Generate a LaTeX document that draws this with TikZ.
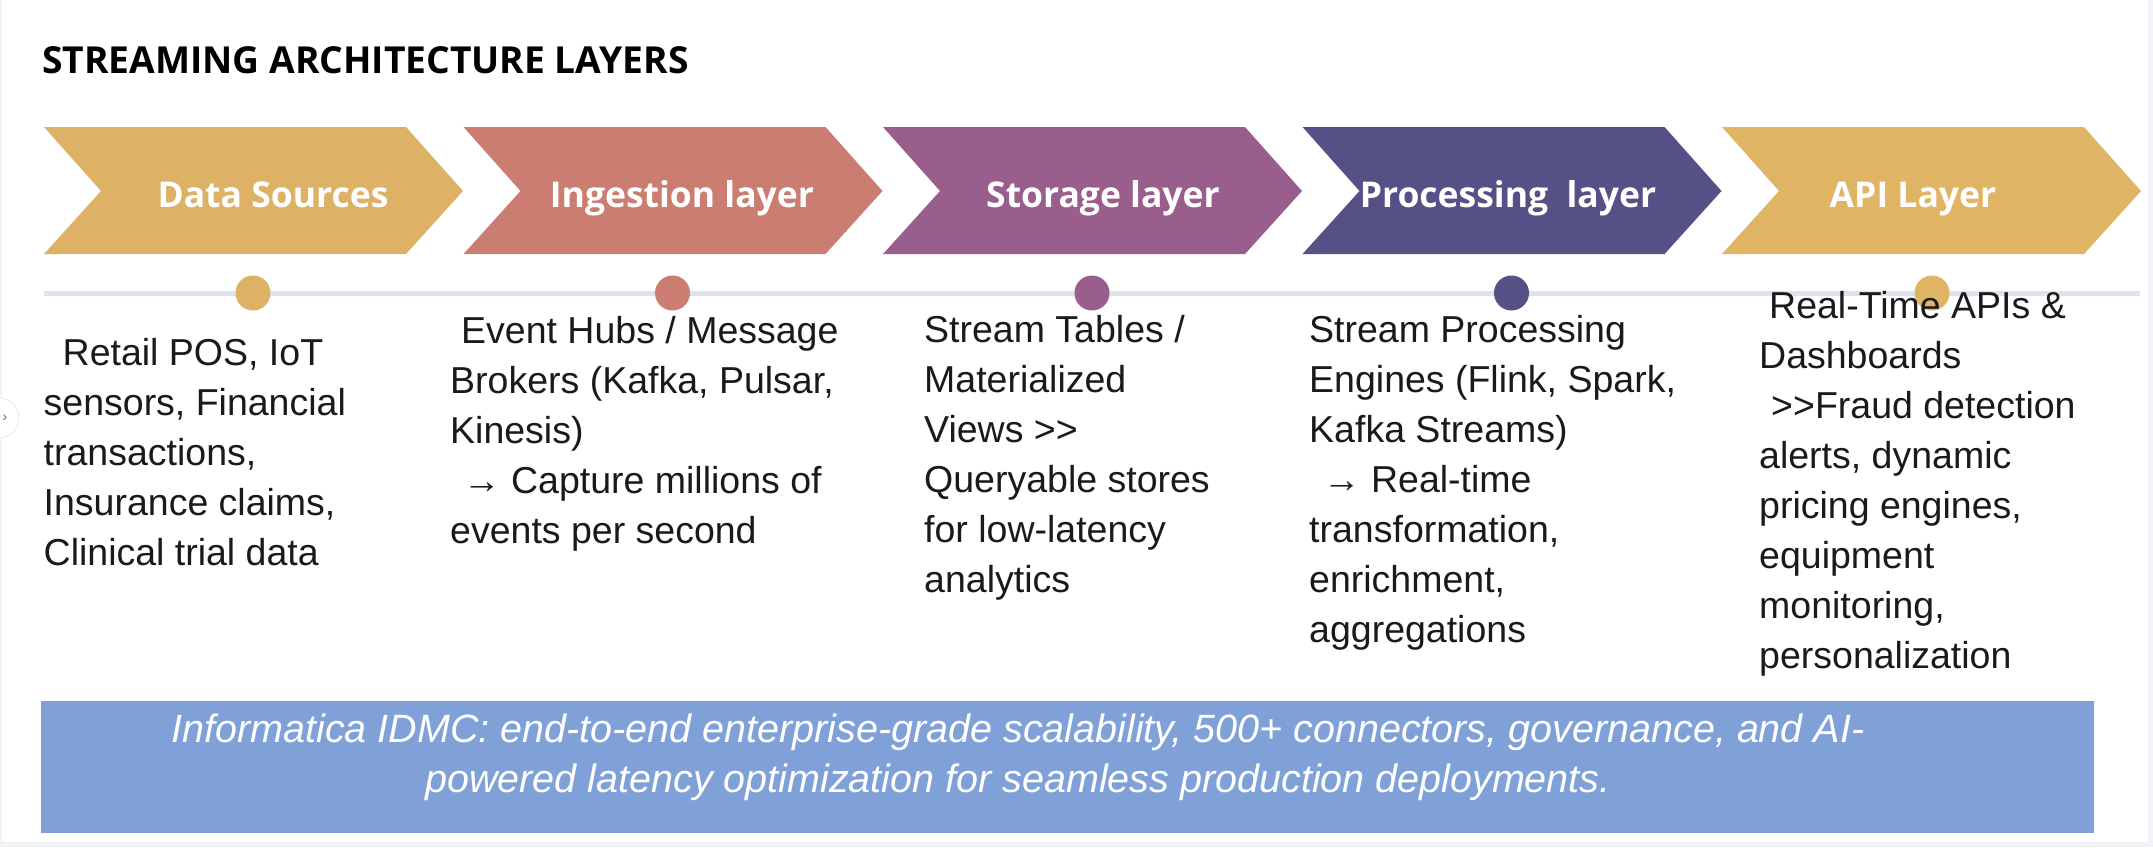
\documentclass[tikz,border=0pt]{standalone}
\usepackage{fontspec}
\setmainfont{Liberation Sans}
\newfontfamily\headfont{Open Sans}
\definecolor{cA}{HTML}{DDB266}
\definecolor{cB}{HTML}{CA7D70}
\definecolor{cC}{HTML}{995E8B}
\definecolor{cD}{HTML}{555085}
\definecolor{cE}{HTML}{E0B465}
\definecolor{boxblue}{HTML}{7FA1D8}
\definecolor{tline}{HTML}{DCE3EF}
\definecolor{framegray}{HTML}{F2F3F6}
\definecolor{bodytext}{HTML}{1A1A1A}
\newcommand\fs{\rule{0pt}{36pt}}
\tikzset{
  chev/.style={draw=none},
  chevlabel/.style={anchor=base, inner sep=0pt, text=white, font=\headfont\bfseries\fontsize{35.5}{40}\selectfont},
  dotnode/.style={circle, inner sep=0pt, minimum size=35pt, draw=none},
  bodycol/.style={anchor=north west, inner sep=0pt, align=left, text=bodytext, font=\fontsize{37.5}{50}\selectfont},
}
\begin{document}
\begin{tikzpicture}[x=1pt, y=-1pt]
\useasboundingbox (0,0) rectangle (2153,847);
\fill[framegray] (0,0) rectangle (2153,847);
\fill[white] (2,0) rectangle (2148,842);
% side handle
\node[circle, draw=black!15, fill=white, minimum size=40pt, inner sep=0pt] (handle) at (-1,418) {};
\node[text=black!60, font=\fontsize{14}{14}\selectfont, inner sep=0pt] (handlemark) at (5,418) {›};
% title
\node[anchor=base west, inner sep=0pt, font=\headfont\bfseries\fontsize{37.2}{40}\selectfont] (title) at (42,73) {STREAMING ARCHITECTURE LAYERS};
% chevrons
\foreach \k/\c in {0/cA,1/cB,2/cC,3/cD,4/cE}{
  \pgfmathsetmacro{\L}{44+419.5*\k}
  \fill[\c] (\L,127) -- ++(362,0) -- ++(57,64) -- ++(-57,63) -- ++(-362,0) -- ++(57,-63) -- cycle;
}
\node[chevlabel] (l1) at (273,207) {Data Sources};
\node[chevlabel] (l2) at (682,207) {Ingestion layer};
\node[chevlabel] (l3) at (1103,207) {Storage layer};
\node[chevlabel] (l4) at (1508,207) {Processing\ \ layer};
\node[chevlabel] (l5) at (1913,207) {API Layer};
% timeline
\coordinate (t0) at (44,293);
\coordinate (t1) at (2140,293);
\draw[tline, line width=5pt] (t0) -- (t1);
\node[dotnode, fill=cA] (d1) at (253,293) {};
\node[dotnode, fill=cB] (d2) at (672.5,293) {};
\node[dotnode, fill=cC] (d3) at (1092,293) {};
\node[dotnode, fill=cD] (d4) at (1511.5,293) {};
\node[dotnode, fill=cE] (d5) at (1932,293) {};
% columns
\node[bodycol] (b1) at (43.5,329) {\fs\hspace*{19pt}Retail POS, IoT\\sensors, Financial\\transactions,\\Insurance claims,\\Clinical trial data};
\node[bodycol] (b2) at (450,307) {\fs\hspace*{11pt}Event Hubs / Message\\Brokers (Kafka, Pulsar,\\Kinesis)\\\hspace*{13pt}→ Capture millions of\\events per second};
\node[bodycol] (b3) at (924,306) {\fs Stream Tables /\\Materialized\\Views >{}>\\Queryable stores\\for low-latency\\analytics};
\node[bodycol] (b4) at (1309,306) {\fs Stream Processing\\Engines (Flink, Spark,\\Kafka Streams)\\\hspace*{14pt}→ Real-time\\transformation,\\enrichment,\\aggregations};
\node[bodycol] (b5) at (1759,282) {\fs\hspace*{10pt}Real-Time APIs \&\\Dashboards\\\hspace*{12pt}>{}>Fraud detection\\alerts, dynamic\\pricing engines,\\equipment\\monitoring,\\personalization};
% bottom note
\fill[boxblue] (41,701) rectangle (2094,833);
\node[anchor=north, inner sep=0pt, align=center, text=white, font=\itshape\fontsize{39.5}{50}\selectfont] (note) at (1018,706) {\fs Informatica IDMC: end-to-end enterprise-grade scalability, 500+ connectors, governance, and AI-\\powered latency optimization for seamless production deployments.};
\end{tikzpicture}
\end{document}
